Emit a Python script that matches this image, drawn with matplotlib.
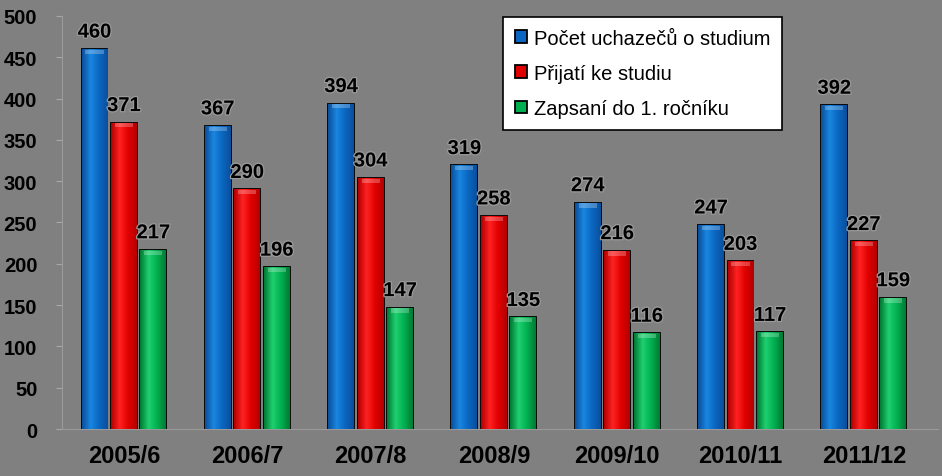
"""Uchazeči, přijatí a zapsaní studenti podle akademického roku."""
import matplotlib.pyplot as plt
import matplotlib.patheffects as pe
import numpy as np
from matplotlib.colors import LinearSegmentedColormap

YEARS = ["2005/6", "2006/7", "2007/8", "2008/9", "2009/10", "2010/11", "2011/12"]
UCHAZECI = [460, 367, 394, 319, 274, 247, 392]
PRIJATI = [371, 290, 304, 258, 216, 203, 227]
ZAPSANI = [217, 196, 147, 135, 116, 117, 159]
LABELS = ["Počet uchazečů o studium", "Přijatí ke studiu", "Zapsaní do 1. ročníku"]

# tmavý okraj, světlejší střed - jako gradient v Excelu
SHADES = [
    ("#0b4f9c", "#1a86e0", "#0a66c0"),
    ("#b30000", "#ff2222", "#e00000"),
    ("#007a33", "#1fd070", "#00b050"),
]
BG = "#808080"

plt.rcParams["font.family"] = ["Liberation Sans", "DejaVu Sans"]

fig = plt.figure(figsize=(9.42, 4.77), dpi=100, facecolor=BG)
ax = fig.add_axes([0.0661, 0.0985, 0.9295, 0.866], facecolor=BG)

x = np.arange(len(YEARS))
width = 0.21
gap = 0.239
series = [UCHAZECI, PRIJATI, ZAPSANI]

grad = np.linspace(0, 1, 64).reshape(1, -1)
outline = [pe.withStroke(linewidth=1.8, foreground="#9a9a9a")]
for i, (vals, shade) in enumerate(zip(series, SHADES)):
    cmap = LinearSegmentedColormap.from_list(f"g{i}", [shade[0], shade[1], shade[2], shade[0]])
    bars = ax.bar(x + (i - 1) * gap, vals, width, color=shade[2],
                  edgecolor="black", linewidth=1.3, zorder=3, label=LABELS[i])
    for b, v in zip(bars, vals):
        bx, by = b.get_x(), b.get_y()
        bw, bh = b.get_width(), b.get_height()
        im = ax.imshow(grad, cmap=cmap, aspect="auto", zorder=3,
                       extent=(bx, bx + bw, by, by + bh))
        im.set_clip_path(b)
        # světlý odlesk nahoře
        ax.fill_between([bx + bw * 0.15, bx + bw * 0.85], by + bh - 6, by + bh - 1,
                        color="white", alpha=0.25, lw=0, zorder=4)
        ax.text(bx + bw / 2, v + 9, str(v), ha="center", va="bottom",
                fontsize=14.5, fontweight="bold", color="black",
                path_effects=outline, zorder=5)

ax.set_ylim(0, 500)
ax.set_xlim(-0.5, len(YEARS) - 0.4)
ax.set_yticks(np.arange(0, 501, 50))
ax.set_xticks(x)
ax.set_xticklabels(YEARS, fontsize=17, fontweight="bold")
for t in ax.get_yticklabels():
    t.set_fontsize(14.5)
    t.set_fontweight("bold")
ax.tick_params(axis="y", length=4, color="#a8a8a8", pad=14)
ax.tick_params(axis="x", length=0, pad=11)

for side in ("top", "right"):
    ax.spines[side].set_visible(False)
for side in ("left", "bottom"):
    ax.spines[side].set_color("#9a9a9a")
    ax.spines[side].set_linewidth(0.8)

leg = ax.legend(loc="upper left", bbox_to_anchor=(0.503, 0.998), borderaxespad=0,
                fontsize=14.5, frameon=True, fancybox=False, edgecolor="black",
                facecolor="white", framealpha=1, handlelength=0.6, handleheight=0.6,
                handletextpad=0.35, labelspacing=0.8, borderpad=0.6)
leg.get_frame().set_linewidth(1.2)

fig.savefig("out.png", dpi=100, facecolor=BG)
